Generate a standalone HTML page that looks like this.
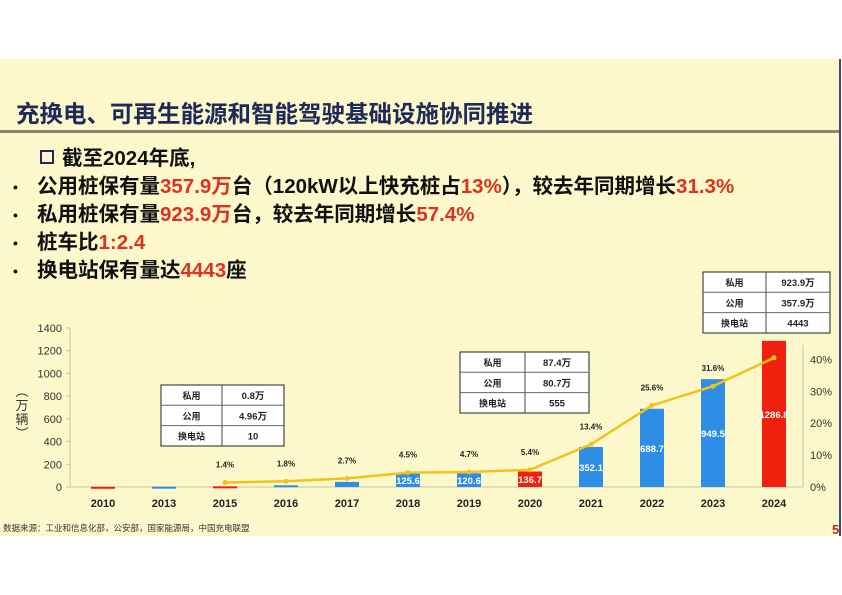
<!DOCTYPE html>
<html><head><meta charset="utf-8"><style>
body{margin:0;width:842px;height:595px;background:#fff;position:relative;overflow:hidden;font-family:"Liberation Sans","Noto Sans CJK SC",sans-serif}
#panel{position:absolute;left:0;top:59px;width:839px;height:477px;background:#fcf8cb;border-right:2px solid #3a4a7a}
#sep{position:absolute;left:0;top:130px;width:839px;height:3px;background:#8a8670}
#title{position:absolute;left:16px;top:95px;font-size:23.5px;font-weight:bold;color:#1d2a5a;white-space:nowrap}
.ln{position:absolute;left:37px;font-size:20.5px;font-weight:bold;color:#111;white-space:nowrap;line-height:26px}
.r{color:#e0301e}
.dot{position:absolute;left:-24px;top:0;font-size:14px}
svg{position:absolute;left:0;top:0}
</style></head><body>
<div id="panel"></div>
<div id="sep"></div>
<div id="title">充换电、可再生能源和智能驾驶基础设施协同推进</div>
<div class="ln" style="top:146px;left:40px"><span style="display:inline-block;width:10px;height:10px;border:2px solid #1d2a5a;margin-right:8px;vertical-align:1px"></span>截至2024年底,</div>
<div class="ln" style="top:174px"><span class="dot">•</span>公用桩保有量<span class="r">357.9万</span>台（120kW以上快充桩占<span class="r">13%</span>），较去年同期增长<span class="r">31.3%</span></div>
<div class="ln" style="top:202px"><span class="dot">•</span>私用桩保有量<span class="r">923.9万</span>台，较去年同期增长<span class="r">57.4%</span></div>
<div class="ln" style="top:230px"><span class="dot">•</span>桩车比<span class="r">1:2.4</span></div>
<div class="ln" style="top:258px"><span class="dot">•</span>换电站保有量达<span class="r">4443</span>座</div>
<div style="position:absolute;left:14px;top:385px;width:16px;font-size:13px;color:#333;line-height:14px;text-align:center">︵<br>万<br>辆<br>︶</div>
<svg id="chart" width="842" height="595"></svg>
<script>
const categories=["2010","2013","2015","2016","2017","2018","2019","2020","2021","2022","2023","2024"];
const barValues=[2,3,6,15,45,125.6,120.6,136.7,352.1,688.7,949.5,1286.8];
const barLabels=["","","","","","125.6","120.6","136.7","352.1","688.7","949.5","1286.8"];
const barRed=[1,0,1,0,0,0,0,1,0,0,0,1];
const growthPct=[null,null,1.4,1.8,2.7,4.5,4.7,5.4,13.4,25.6,31.6,40.5];
const growthLabels=["","","1.4%","1.8%","2.7%","4.5%","4.7%","5.4%","13.4%","25.6%","31.6%",""];
const leftTicks=[0,200,400,600,800,1000,1200,1400];
const rightTicks=[0,10,20,30,40];
const tables=[
 {x:161,y:385,w:123,split:61,rows:[["私用","0.8万"],["公用","4.96万"],["换电站","10"]]},
 {x:460,y:352,w:129,split:65,rows:[["私用","87.4万"],["公用","80.7万"],["换电站","555"]]},
 {x:703,y:272,w:127,split:63,rows:[["私用","923.9万"],["公用","357.9万"],["换电站","4443"]]}];
const NS="http://www.w3.org/2000/svg",svg=document.getElementById('chart');
const X=i=>103+i*61, Y=v=>487-v*0.1136, Y2=p=>487-p*3.19;
function el(t,a,txt){const e=document.createElementNS(NS,t);for(const k in a)e.setAttribute(k,a[k]);if(txt!==undefined)e.textContent=txt;svg.appendChild(e);return e;}
let e;
e=el('line',{x1:70,y1:487,x2:803,y2:487,stroke:'#c8c4a8','stroke-width':1});


e=el('line',{x1:70,y1:328,x2:70,y2:487,stroke:'#c8c4a8'});


e=el('line',{x1:803,y1:345,x2:803,y2:487,stroke:'#c8c4a8'});


leftTicks.forEach(v=>{
 e=el('text',{x:62,y:Y(v)+4,'text-anchor':'end','font-size':11,fill:'#333'},String(v));
 
 
 el('line',{x1:66,y1:Y(v),x2:70,y2:Y(v),stroke:'#c8c4a8'});
});
rightTicks.forEach(p=>{
 e=el('text',{x:810,y:Y2(p)+4,'font-size':11,fill:'#333'},p+'%');
 
 
});
categories.forEach((c,i)=>{
 const v=barValues[i],h=487-Y(v);
 e=el('rect',{x:X(i)-12,y:Y(v),width:24,height:Math.max(h,2),fill:barRed[i]?'#f0200e':'#2e8ee6'});
 
 
 if(barLabels[i]){
  e=el('text',{x:X(i),y:Math.min(Y(v)+h/2+4,484),'text-anchor':'middle','font-size':9.5,'font-weight':'bold',fill:'#fff'},barLabels[i]);
  
  
 }
 e=el('text',{x:X(i),y:507,'text-anchor':'middle','font-size':11,'font-weight':'bold',fill:'#222'},c);
 
 
});
const pts=[];growthPct.forEach((p,i)=>{if(p!==null)pts.push([X(i),Y2(p),i]);});
e=el('polyline',{points:pts.map(p=>p[0]+','+p[1]).join(' '),fill:'none',stroke:'#f2c21a','stroke-width':2.5});


pts.forEach(p=>{
 e=el('circle',{cx:p[0],cy:p[1],r:2.5,fill:'#f2c21a'});
 
 
 if(growthLabels[p[2]]){
  e=el('text',{x:p[0],y:p[1]-15,'text-anchor':'middle','font-size':8,'font-weight':'bold',fill:'#222'},growthLabels[p[2]]);
  
  
 }
});
tables.forEach((t,ti)=>{
 e=el('rect',{x:t.x,y:t.y,width:t.w,height:61,fill:'#fff',stroke:'#222','stroke-width':1});
 
 
 el('line',{x1:t.x+t.split,y1:t.y,x2:t.x+t.split,y2:t.y+61,stroke:'#444'});
 t.rows.forEach((r,ri)=>{
  const yy=t.y+ri*20.3;
  if(ri>0)el('line',{x1:t.x,y1:yy,x2:t.x+t.w,y2:yy,stroke:'#666'});
  e=el('text',{x:t.x+t.split/2,y:yy+14,'text-anchor':'middle','font-size':9,'font-weight':'bold',fill:'#222'},r[0]);
  
  
  e=el('text',{x:t.x+t.split+(t.w-t.split)/2,y:yy+14,'text-anchor':'middle','font-size':9.5,'font-weight':'bold',fill:'#222'},r[1]);
  
  
 });
});
e=el('text',{x:3,y:531,'font-size':8.5,fill:'#333'},'数据来源：工业和信息化部，公安部，国家能源局，中国充电联盟');


e=el('text',{x:832,y:534,'font-size':13,'font-weight':'bold',fill:'#b03020'},'5');


</script>
</body></html>
